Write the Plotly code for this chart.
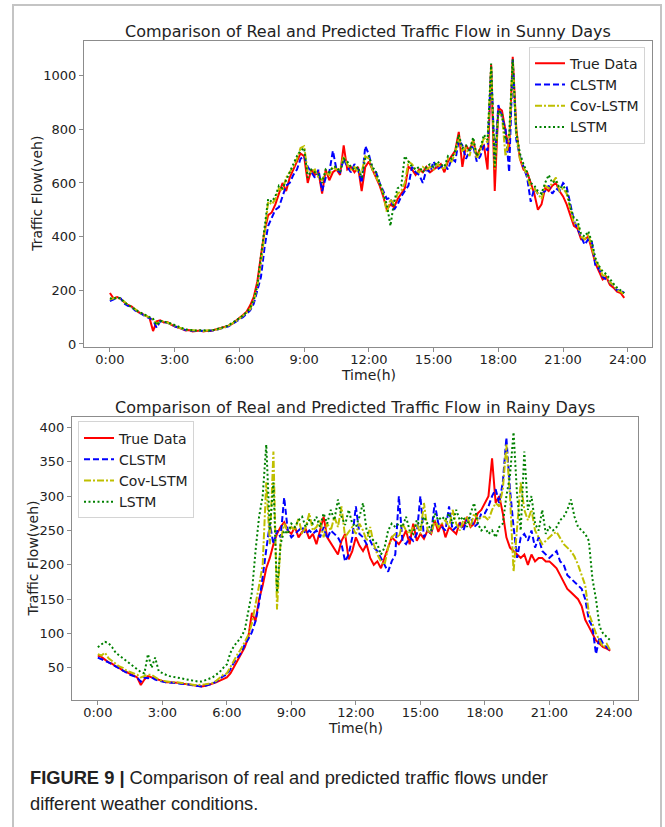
import plotly.graph_objects as go

# ---------------- data (10-minute samples, 0:00 .. 23:50) ----------------
n_points = 144
hours = [i / 6 for i in range(n_points)]
tick_hours = [0, 3, 6, 9, 12, 15, 18, 21, 24]
tick_text = ["0:00", "3:00", "6:00", "9:00", "12:00", "15:00", "18:00", "21:00", "24:00"]

# Sunny days
sunny_true = [
    190,170,175,168,155,145, 140,128,118,112,105,98,
    48,84,88,80,82,72, 66,62,56,50,52,46,
    47,50,46,49,48,52, 55,58,62,68,75,85,
    96,108,120,144,175,233, 330,420,480,490,520,560,
    600,570,620,650,680,710, 700,600,650,630,640,560,
    650,610,640,650,630,740, 650,660,640,660,570,660,
    680,650,620,590,550,500, 520,510,540,560,580,660,
    650,630,650,640,660,640, 650,660,670,640,680,700,
    720,790,660,740,720,760, 700,730,740,650,1040,570,
    880,870,790,720,1070,800, 690,650,640,600,560,500,
    520,580,570,590,600,570, 550,520,480,440,430,390,
    390,400,350,300,270,240, 250,220,210,195,190,172,
]
sunny_clstm = [
    160,165,172,170,150,142, 138,125,116,110,102,96,
    90,60,85,82,78,74, 66,60,56,52,50,48,
    48,48,49,47,50,50, 54,57,60,66,74,82,
    92,100,112,125,150,200, 250,360,440,470,500,510,
    550,590,600,630,650,690, 700,660,640,620,650,570,
    620,640,720,650,640,690, 660,640,670,650,600,737,
    707,650,640,600,570,540, 545,500,520,550,570,590,
    660,640,630,600,650,640, 680,650,660,670,650,690,
    680,760,740,690,720,740, 680,700,740,720,1030,680,
    890,840,800,640,1060,760, 700,660,620,530,580,560,
    560,570,590,560,580,570, 600,585,520,460,430,400,
    370,390,380,290,280,250, 240,230,215,200,200,190,
]
sunny_cov = [
    165,170,170,168,158,145, 138,130,118,112,104,98,
    92,75,84,85,80,76, 68,62,58,53,52,50,
    50,50,48,50,50,52, 55,58,62,68,75,84,
    94,104,116,130,160,215, 300,410,530,520,540,580,
    570,620,640,660,690,730, 737,640,640,650,620,610,
    640,630,660,650,650,700, 670,650,660,640,640,700,
    690,650,620,600,560,490, 540,520,560,570,600,680,
    670,650,640,660,650,660, 650,670,660,650,690,680,
    710,770,720,730,700,760, 690,720,770,750,1030,650,
    860,850,700,760,1050,780, 690,660,630,580,580,560,
    540,590,580,600,620,570, 580,560,500,450,450,400,
    390,410,360,310,290,255, 255,230,220,200,195,185,
]
sunny_lstm = [
    170,168,174,170,155,146, 140,128,120,114,106,100,
    94,70,86,84,80,76, 70,64,58,54,52,50,
    50,51,50,50,50,53, 56,60,64,70,78,86,
    96,106,118,135,165,220, 320,420,540,530,550,590,
    580,610,640,670,700,720, 730,620,650,640,630,600,
    650,640,660,660,640,690, 680,660,650,660,620,690,
    700,660,640,600,560,520, 440,530,580,590,700,680,
    660,650,660,640,660,670, 660,680,670,660,700,690,
    720,780,730,740,720,770, 700,730,780,760,1045,660,
    870,860,760,780,1060,790, 710,670,640,600,590,570,
    560,600,630,600,610,580, 590,570,510,470,460,410,
    400,420,380,320,290,270, 260,240,225,210,200,190,
]

# Rainy days
rainy_true = [
    68,66,62,58,56,52, 50,46,44,41,39,36,
    25,33,38,36,34,32, 30,29,29,29,28,28,
    27,26,25,24,24,23, 24,25,27,29,31,34,
    36,42,52,60,70,80, 95,130,118,150,170,195,
    210,230,245,255,262,250, 245,255,240,248,252,238,
    245,230,250,270,240,232, 225,215,235,245,208,220,
    240,228,220,230,210,200, 205,195,210,225,240,235,
    230,238,250,230,260,235, 245,238,250,245,265,248,
    260,240,255,250,245,262, 255,270,255,260,275,280,
    290,300,355,290,300,275, 240,225,220,215,210,215,
    200,215,205,210,210,205, 205,200,195,185,175,165,
    160,155,150,140,120,110, 100,90,85,80,78,75,
]
rainy_clstm = [
    65,63,60,58,55,52, 48,45,42,40,38,36,
    30,36,35,36,33,31, 30,29,29,28,28,27,
    27,26,25,24,23,23, 24,25,27,30,34,38,
    40,48,58,66,72,84, 92,102,118,144,180,222,
    260,230,250,240,298,250, 240,245,250,255,245,250,
    245,250,240,255,238,250, 245,240,230,205,215,240,
    285,245,240,230,235,225, 220,210,200,190,205,215,
    300,235,230,240,235,245, 300,240,250,245,290,260,
    255,250,285,250,255,260, 250,265,270,255,260,275,
    275,285,300,310,290,320, 385,310,255,210,240,245,
    235,250,225,240,220,215, 210,215,220,205,200,185,
    180,175,170,165,150,120, 110,70,95,85,80,75,
]
rainy_cov = [
    70,68,72,64,60,56, 52,50,46,44,42,40,
    36,38,40,40,36,33, 31,30,30,29,29,28,
    28,27,26,25,25,25, 26,27,28,31,35,40,
    42,52,62,70,78,88, 98,115,140,170,200,320,
    230,365,135,235,260,248, 255,250,268,245,255,275,
    250,255,265,240,260,250, 270,255,285,240,248,255,
    245,260,250,235,255,230, 215,205,200,225,240,245,
    240,260,250,245,255,260, 245,290,250,245,265,255,
    260,265,255,280,260,250, 265,270,255,275,265,270,
    270,265,280,290,285,310, 375,300,190,260,320,280,
    265,280,250,240,230,235, 240,245,248,238,230,225,
    220,212,200,185,170,130, 115,100,90,80,85,75,
]
rainy_lstm = [
    80,84,88,86,80,72, 68,64,60,56,52,48,
    44,42,70,50,65,45, 42,40,38,37,36,34,
    33,32,31,30,30,30, 32,34,36,40,44,50,
    55,72,82,88,95,105, 130,160,220,270,300,375,
    250,320,160,230,250,245, 260,255,265,270,255,265,
    260,270,255,275,260,280, 265,295,270,258,280,260,
    255,270,290,250,240,235, 230,215,225,250,260,255,
    260,255,270,250,245,265, 255,270,260,250,275,265,
    270,265,275,260,280,265, 270,255,275,290,260,250,
    255,245,250,240,255,260, 300,330,393,300,250,365,
    280,300,260,250,280,245, 255,250,255,265,270,280,
    295,270,255,250,245,235, 180,150,110,100,95,90,
]

series_names = ["True Data", "CLSTM", "Cov-LSTM", "LSTM"]

# ---------------- figure ----------------
W, H = 665, 827
def fx(px):
    return px / W
def fy(py):
    return 1 - py / H

styles = [
    dict(color="#ff0000", width=2, dash="solid"),
    dict(color="#0000ff", width=2, dash="6px,3px"),
    dict(color="#bfbf00", width=2, dash="7px,2px,2px,2px"),
    dict(color="#008000", width=2, dash="2px,2.5px"),
]

fig = go.Figure()
for name, ys, st in zip(series_names, [sunny_true, sunny_clstm, sunny_cov, sunny_lstm], styles):
    fig.add_trace(go.Scatter(x=hours, y=ys, mode="lines", name=name, line=st,
                             xaxis="x", yaxis="y", legend="legend"))
for name, ys, st in zip(series_names, [rainy_true, rainy_clstm, rainy_cov, rainy_lstm], styles):
    fig.add_trace(go.Scatter(x=hours, y=ys, mode="lines", name=name, line=st,
                             xaxis="x2", yaxis="y2", legend="legend2"))

axis_common = dict(showline=True, mirror=True, linecolor="#8c8c8c", linewidth=1,
                   ticks="outside", ticklen=4, tickcolor="#8c8c8c", showgrid=False,
                   zeroline=False, tickfont=dict(family="DejaVu Sans", size=13, color="#222"))

fig.update_layout(
    width=W, height=H, margin=dict(l=0, r=0, t=0, b=0),
    paper_bgcolor="white", plot_bgcolor="white",
    font=dict(family="DejaVu Sans", color="#222"),
    xaxis=dict(domain=[fx(84), fx(652)], range=[-1.2, 25.12], tickvals=tick_hours,
               ticktext=tick_text, anchor="y", ticklabelstandoff=-3, **axis_common),
    yaxis=dict(domain=[fy(349), fy(41)], range=[-11, 1130], tickvals=[0, 200, 400, 600, 800, 1000],
               anchor="x", **axis_common),
    xaxis2=dict(domain=[fx(72), fx(638)], range=[-1.2, 25.12], tickvals=tick_hours,
                ticktext=tick_text, anchor="y2", ticklabelstandoff=-3, **axis_common),
    yaxis2=dict(domain=[fy(704), fy(420)], range=[3.6, 414.5],
                tickvals=[50, 100, 150, 200, 250, 300, 350, 400], anchor="x2", **axis_common),
    legend=dict(x=fx(645), y=fy(47), xanchor="right", yanchor="top", bgcolor="white",
                bordercolor="#d4d4d4", borderwidth=1, font=dict(family="DejaVu Sans", size=14),
                tracegroupgap=0, itemwidth=30),
    legend2=dict(x=fx(78), y=fy(424), xanchor="left", yanchor="top", bgcolor="white",
                 bordercolor="#d4d4d4", borderwidth=1, font=dict(family="DejaVu Sans", size=14),
                 tracegroupgap=0, itemwidth=30),
    showlegend=True,
)

annotations = [
    dict(text="Comparison of Real and Predicted Traffic Flow in Sunny Days", x=fx(368), y=fy(32),
         font=dict(size=16)),
    dict(text="Comparison of Real and Predicted Traffic Flow in Rainy Days", x=fx(355), y=fy(410),
         font=dict(size=16)),
    dict(text="Traffic Flow(veh)", x=fx(37), y=fy(195), textangle=-90, font=dict(size=14)),
    dict(text="Traffic Flow(veh)", x=fx(33), y=fy(562), textangle=-90, font=dict(size=14)),
    dict(text="Time(h)", x=fx(368), y=fy(377), font=dict(size=14)),
    dict(text="Time(h)", x=fx(355), y=fy(732), font=dict(size=14)),
]
for a in annotations:
    a.update(xref="paper", yref="paper", showarrow=False, xanchor="center", yanchor="middle")
    fig.add_annotation(**a)

caption_font = dict(family="Liberation Sans", size=18.3, color="#222")
fig.add_annotation(text="<b>FIGURE 9 |</b> Comparison of real and predicted traffic flows under",
                   x=fx(28), y=fy(782), xref="paper", yref="paper", showarrow=False,
                   xanchor="left", yanchor="middle", font=caption_font)
fig.add_annotation(text="different weather conditions.",
                   x=fx(28), y=fy(808), xref="paper", yref="paper", showarrow=False,
                   xanchor="left", yanchor="middle", font=caption_font)

# outer journal frame
fig.add_shape(type="rect", xref="paper", yref="paper", x0=fx(13), x1=fx(661), y0=-0.02, y1=fy(5),
              line=dict(color="#c4c4c4", width=2), fillcolor="rgba(0,0,0,0)", layer="below")

fig.write_html("out.html", config={"displayModeBar": False},
               post_script="document.body.style.margin='0px';")
